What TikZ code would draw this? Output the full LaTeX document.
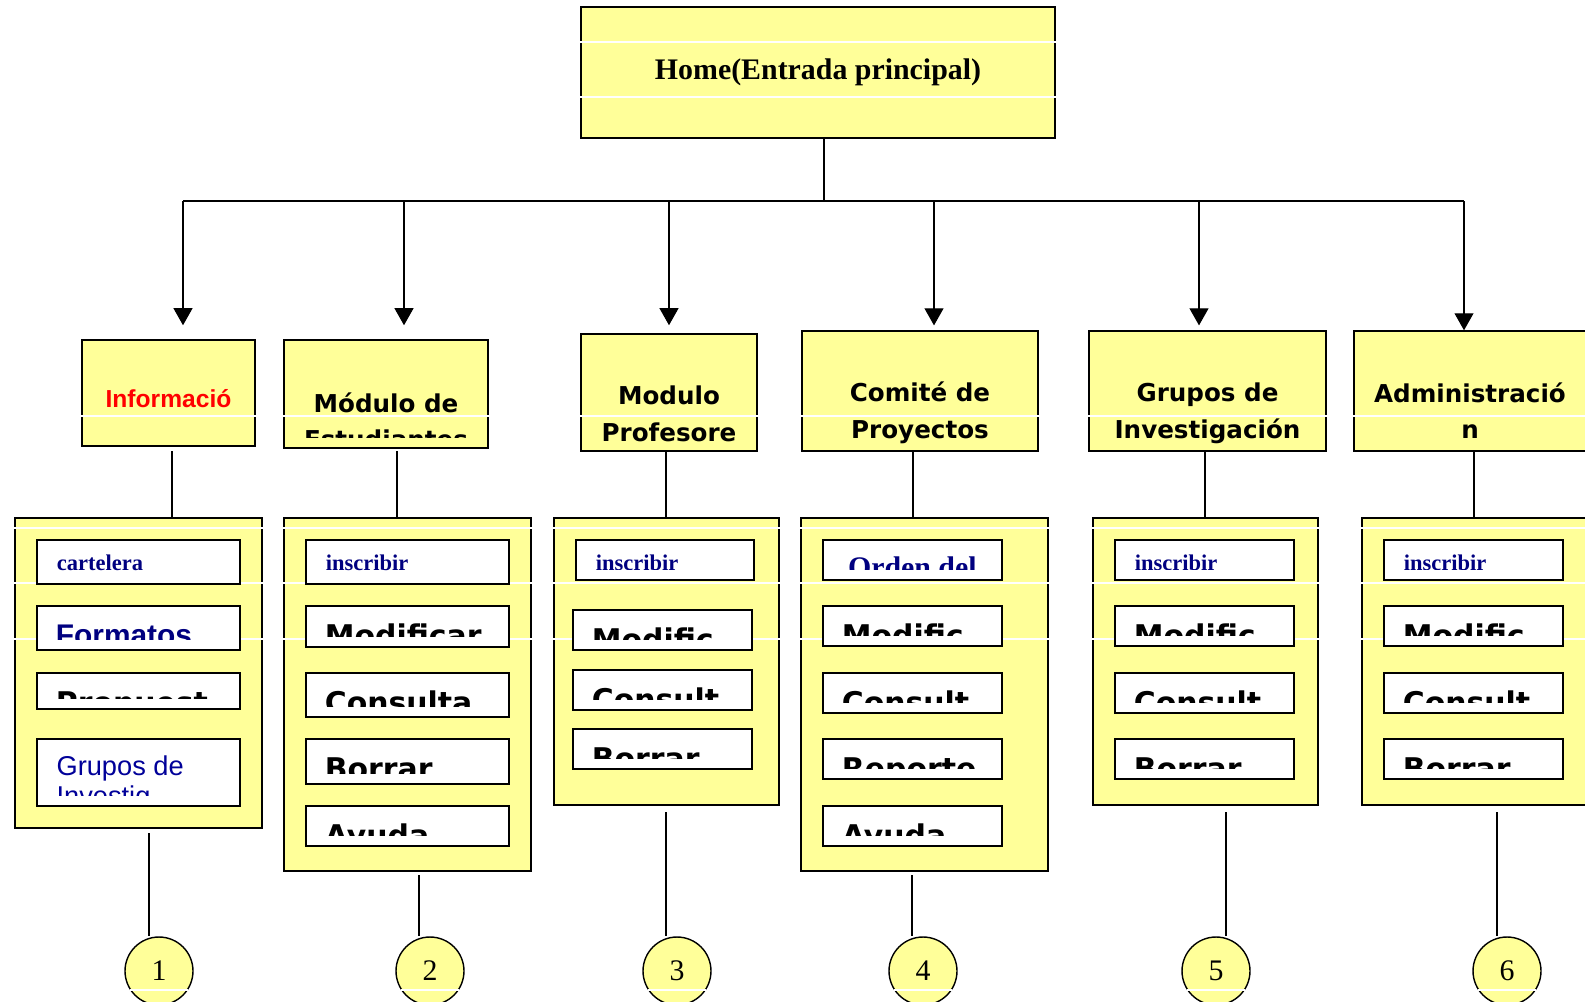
\documentclass[tikz,border=0pt]{standalone}
\usepackage{fontspec}
\setmainfont{Liberation Serif}
\newfontfamily\arialfont{Liberation Sans}
\newfontfamily\verdfont{DejaVu Sans}
\usepackage{tikz}
\usetikzlibrary{arrows.meta}

\definecolor{paleyellow}{RGB}{255,255,153}
\definecolor{navytext}{RGB}{0,0,128}
\definecolor{linkblue}{RGB}{0,0,153}

\begin{document}
\begin{tikzpicture}[x=0.02cm, y=-0.02cm, line width=0.6pt,
  corners/.style n args={4}{at={({(#1+#3)/2},{(#2+#4)/2})}, minimum width={(#3-#1)*0.02cm}, minimum height={(#4-#2)*0.02cm}},
  panel/.style={draw, fill=paleyellow, inner sep=0pt, line width=0.8pt},
  itembox/.style={draw, fill=white, inner sep=0pt, line width=1.1pt},
  numdot/.style={circle, draw, fill=paleyellow, inner sep=0pt, minimum size=1.36cm, line width=0.8pt, font=\fontsize{17pt}{20pt}\selectfont},
  wline/.style={white, line width=0.6pt},
  arrowdown/.style={-{Triangle[width=10.8pt,length=9.7pt]}},
  cliptext/.style={path picture={
    \clip ([yshift=5.7pt]path picture bounding box.south west) rectangle (path picture bounding box.north east);
    \coordinate (pp) at (path picture bounding box.north west);
    \coordinate (ppn) at (path picture bounding box.north);
    #1}},
  txt/.style={inner sep=0pt, minimum width=0pt, minimum height=0pt, draw=none, fill=none},
  hdtxt/.style={txt, anchor=base, font=\verdfont\bfseries\fontsize{14pt}{16pt}\selectfont},
  heavy/.style={txt, anchor=base west, xshift=10.2pt, yshift=-22.8pt, font=\verdfont\bfseries\fontsize{17pt}{20pt}\selectfont},
  serifsm/.style={txt, anchor=base west, xshift=10.8pt, yshift=-17.6pt, text=navytext, font=\bfseries\fontsize{12.8pt}{15pt}\selectfont},
  serifbig/.style={txt, anchor=base west, xshift=13.7pt, yshift=-21.1pt, text=navytext, font=\bfseries\fontsize{17pt}{20pt}\selectfont},
  sansbold/.style={txt, anchor=base west, xshift=10.2pt, yshift=-22.5pt, text=navytext, font=\arialfont\bfseries\fontsize{17pt}{20pt}\selectfont},
  sansreg/.style={txt, anchor=base west, xshift=10.6pt, text=linkblue, font=\arialfont\fontsize{15.5pt}{17pt}\selectfont}]

  \useasboundingbox (0,0) rectangle (1585,1001);

  % home
  \node[panel, corners={581}{7}{1055}{138}, font=\bfseries\fontsize{17pt}{20pt}\selectfont] (top) {Home(Entrada principal)};
  \draw[wline] (top.west |- 0,42) -- (top.east |- 0,42) (top.west |- 0,97) -- (top.east |- 0,97);

  \coordinate (j) at (824,201);
  \coordinate (b1) at (183,201);
  \coordinate (b2) at (404,201);
  \coordinate (b3) at (669,201);
  \coordinate (b4) at (934,201);
  \coordinate (b5) at (1199,201);
  \coordinate (b6) at (1464,201);
  \draw (top.south -| j) -- (j);
  \draw (b1) -- (b6);

  % headers
  \node[panel, corners={82}{340}{255}{446}] (h1) {};
  \node[panel, corners={284}{340}{488}{448}, cliptext={\node[hdtxt, yshift=-41pt] (h2a) at (ppn) {Módulo de}; \node[hdtxt, yshift=-62pt] (h2b) at (ppn) {Estudiantes};}] (h2) {};
  \node[panel, corners={581}{334}{757}{451}] (h3) {};
  \node[panel, corners={802}{331}{1038}{451}] (h4) {};
  \node[panel, corners={1089}{331}{1326}{451}] (h5) {};
  \node[panel, corners={1354}{331}{1586}{451}] (h6) {};
  \draw[wline] (h1.west |- 0,416) -- (h1.east |- 0,416) (h2.west |- 0,416) -- (h2.east |- 0,416)
    (h3.west |- 0,416) -- (h3.east |- 0,416) (h4.west |- 0,416) -- (h4.east |- 0,416)
    (h5.west |- 0,416) -- (h5.east |- 0,416) (h6.west |- 0,416) -- (h6.east |- 0,416);

  \draw[arrowdown, shorten >=8pt] (b1) -- (b1 |- h1.north);
  \draw[arrowdown, shorten >=8pt] (b2) -- (b2 |- h2.north);
  \draw[arrowdown, shorten >=4.6pt] (b3) -- (b3 |- h3.north);
  \draw[arrowdown, shorten >=2.8pt] (b4) -- (b4 |- h4.north);
  \draw[arrowdown, shorten >=2.8pt] (b5) -- (b5 |- h5.north);
  \draw[arrowdown] (b6) -- (b6 |- h6.north);

  \node[hdtxt, yshift=-38.7pt, text=red, font=\arialfont\bfseries\fontsize{14pt}{16pt}\selectfont] (h1a) at (h1.north) {Informació};
  \node[hdtxt, yshift=-40.4pt] (h3a) at (h3.north) {Modulo};
  \node[hdtxt, yshift=-61.5pt] (h3b) at (h3.north) {Profesore};
  \node[hdtxt, yshift=-40.4pt] (h4a) at (h4.north) {Comité de};
  \node[hdtxt, yshift=-61.5pt] (h4b) at (h4.north) {Proyectos};
  \node[hdtxt, yshift=-40.4pt] (h5a) at (h5.north) {Grupos de};
  \node[hdtxt, yshift=-61.5pt] (h5b) at (h5.north) {Investigación};
  \node[hdtxt, yshift=-41pt] (h6a) at (h6.north) {Administració};
  \node[hdtxt, yshift=-61.5pt] (h6b) at (h6.north) {n};

  % modules
  \node[panel, corners={15}{518}{262}{828}] (m1) {};
  \node[panel, corners={284}{518}{531}{871}] (m2) {};
  \node[panel, corners={554}{518}{779}{805}] (m3) {};
  \node[panel, corners={801}{518}{1048}{871}] (m4) {};
  \node[panel, corners={1093}{518}{1318}{805}] (m5) {};
  \node[panel, corners={1362}{518}{1586}{805}] (m6) {};
  \draw[wline] (m1.west |- 0,528) -- (m1.east |- 0,528) (m1.west |- 0,583) -- (m1.east |- 0,583) (m1.west |- 0,639) -- (m1.east |- 0,639);
  \draw[wline] (m2.west |- 0,528) -- (m2.east |- 0,528) (m2.west |- 0,583) -- (m2.east |- 0,583) (m2.west |- 0,639) -- (m2.east |- 0,639);
  \draw[wline] (m3.west |- 0,528) -- (m3.east |- 0,528) (m3.west |- 0,583) -- (m3.east |- 0,583) (m3.west |- 0,639) -- (m3.east |- 0,639);
  \draw[wline] (m4.west |- 0,528) -- (m4.east |- 0,528) (m4.west |- 0,583) -- (m4.east |- 0,583) (m4.west |- 0,639) -- (m4.east |- 0,639);
  \draw[wline] (m5.west |- 0,528) -- (m5.east |- 0,528) (m5.west |- 0,583) -- (m5.east |- 0,583) (m5.west |- 0,639) -- (m5.east |- 0,639);
  \draw[wline] (m6.west |- 0,528) -- (m6.east |- 0,528) (m6.west |- 0,583) -- (m6.east |- 0,583) (m6.west |- 0,639) -- (m6.east |- 0,639);

  \coordinate (v1) at (172,451);
  \coordinate (v2) at (397,451);
  \coordinate (v3) at (666,451);
  \coordinate (v4) at (913,451);
  \coordinate (v5) at (1205,451);
  \coordinate (v6) at (1474,451);
  \draw (v1) -- (v1 |- m1.north);
  \draw (v2) -- (v2 |- m2.north);
  \draw (v3) -- (v3 |- m3.north);
  \draw (v4) -- (v4 |- m4.north);
  \draw (v5) -- (v5 |- m5.north);
  \draw (v6) -- (v6 |- m6.north);

  % items
  \node[itembox, corners={37}{540}{240}{584}, cliptext={\node[serifsm] (m1at) at (pp) {cartelera};}] (m1a) {};
  \node[itembox, corners={37}{606}{240}{650}, cliptext={\node[sansbold] (m1bt) at (pp) {Formatos};}] (m1b) {};
  \node[itembox, corners={37}{673}{240}{709}, cliptext={\node[heavy] (m1ct) at (pp) {Propuest};}] (m1c) {};
  \node[itembox, corners={37}{739}{240}{806}, cliptext={\node[sansreg, yshift=-20.5pt] (m1dt) at (pp) {Grupos de}; \node[sansreg, yshift=-37.6pt] (m1dt2) at (pp) {Investig};}] (m1d) {};

  \node[itembox, corners={306}{540}{509}{584}, cliptext={\node[serifsm] (m2at) at (pp) {inscribir};}] (m2a) {};
  \node[itembox, corners={306}{606}{509}{647}, cliptext={\node[heavy] (m2bt) at (pp) {Modificar};}] (m2b) {};
  \node[itembox, corners={306}{673}{509}{717}, cliptext={\node[heavy] (m2ct) at (pp) {Consulta};}] (m2c) {};
  \node[itembox, corners={306}{739}{509}{784}, cliptext={\node[heavy] (m2dt) at (pp) {Borrar};}] (m2d) {};
  \node[itembox, corners={306}{806}{509}{846}, cliptext={\node[heavy] (m2et) at (pp) {Ayuda};}] (m2e) {};

  \node[itembox, corners={576}{540}{754}{580}, cliptext={\node[serifsm] (m3at) at (pp) {inscribir};}] (m3a) {};
  \node[itembox, corners={573}{610}{752}{650}, cliptext={\node[heavy] (m3bt) at (pp) {Modific};}] (m3b) {};
  \node[itembox, corners={573}{670}{752}{710}, cliptext={\node[heavy] (m3ct) at (pp) {Consult};}] (m3c) {};
  \node[itembox, corners={573}{729}{752}{769}, cliptext={\node[heavy] (m3dt) at (pp) {Borrar};}] (m3d) {};

  \node[itembox, corners={823}{540}{1002}{580}, cliptext={\node[serifbig] (m4at) at (pp) {Orden del};}] (m4a) {};
  \node[itembox, corners={823}{606}{1002}{646}, cliptext={\node[heavy] (m4bt) at (pp) {Modific};}] (m4b) {};
  \node[itembox, corners={823}{673}{1002}{713}, cliptext={\node[heavy] (m4ct) at (pp) {Consult};}] (m4c) {};
  \node[itembox, corners={823}{739}{1002}{779}, cliptext={\node[heavy] (m4dt) at (pp) {Reporte};}] (m4d) {};
  \node[itembox, corners={823}{806}{1002}{846}, cliptext={\node[heavy] (m4et) at (pp) {Ayuda};}] (m4e) {};

  \node[itembox, corners={1115}{540}{1294}{580}, cliptext={\node[serifsm] (m5at) at (pp) {inscribir};}] (m5a) {};
  \node[itembox, corners={1115}{606}{1294}{646}, cliptext={\node[heavy] (m5bt) at (pp) {Modific};}] (m5b) {};
  \node[itembox, corners={1115}{673}{1294}{713}, cliptext={\node[heavy] (m5ct) at (pp) {Consult};}] (m5c) {};
  \node[itembox, corners={1115}{739}{1294}{779}, cliptext={\node[heavy] (m5dt) at (pp) {Borrar};}] (m5d) {};

  \node[itembox, corners={1384}{540}{1563}{580}, cliptext={\node[serifsm] (m6at) at (pp) {inscribir};}] (m6a) {};
  \node[itembox, corners={1384}{606}{1563}{646}, cliptext={\node[heavy] (m6bt) at (pp) {Modific};}] (m6b) {};
  \node[itembox, corners={1384}{673}{1563}{713}, cliptext={\node[heavy] (m6ct) at (pp) {Consult};}] (m6c) {};
  \node[itembox, corners={1384}{739}{1563}{779}, cliptext={\node[heavy] (m6dt) at (pp) {Borrar};}] (m6d) {};

  % numbers
  \node[numdot] (c1) at (159,971) {1};
  \node[numdot] (c2) at (430,971) {2};
  \node[numdot] (c3) at (677,971) {3};
  \node[numdot] (c4) at (923,971) {4};
  \node[numdot] (c5) at (1216,971) {5};
  \node[numdot] (c6) at (1507,971) {6};

  \coordinate (u1) at (149,833);
  \coordinate (u2) at (419,875);
  \coordinate (u3) at (666,812);
  \coordinate (u4) at (912,875);
  \coordinate (u5) at (1226,812);
  \coordinate (u6) at (1497,812);
  \draw (u1) -- (u1 |- c1.north);
  \draw (u2) -- (u2 |- c2.north);
  \draw (u3) -- (u3 |- c3.north);
  \draw (u4) -- (u4 |- c4.north);
  \draw (u5) -- (u5 |- c5.north);
  \draw (u6) -- (u6 |- c6.north);

  \draw[wline, shorten <=3.5pt, shorten >=3.5pt] (c1.west |- 0,990) -- (c1.east |- 0,990);
  \draw[wline, shorten <=3.5pt, shorten >=3.5pt] (c2.west |- 0,990) -- (c2.east |- 0,990);
  \draw[wline, shorten <=3.5pt, shorten >=3.5pt] (c3.west |- 0,990) -- (c3.east |- 0,990);
  \draw[wline, shorten <=3.5pt, shorten >=3.5pt] (c4.west |- 0,990) -- (c4.east |- 0,990);
  \draw[wline, shorten <=3.5pt, shorten >=3.5pt] (c5.west |- 0,990) -- (c5.east |- 0,990);
  \draw[wline, shorten <=3.5pt, shorten >=3.5pt] (c6.west |- 0,990) -- (c6.east |- 0,990);

\end{tikzpicture}
\end{document}
